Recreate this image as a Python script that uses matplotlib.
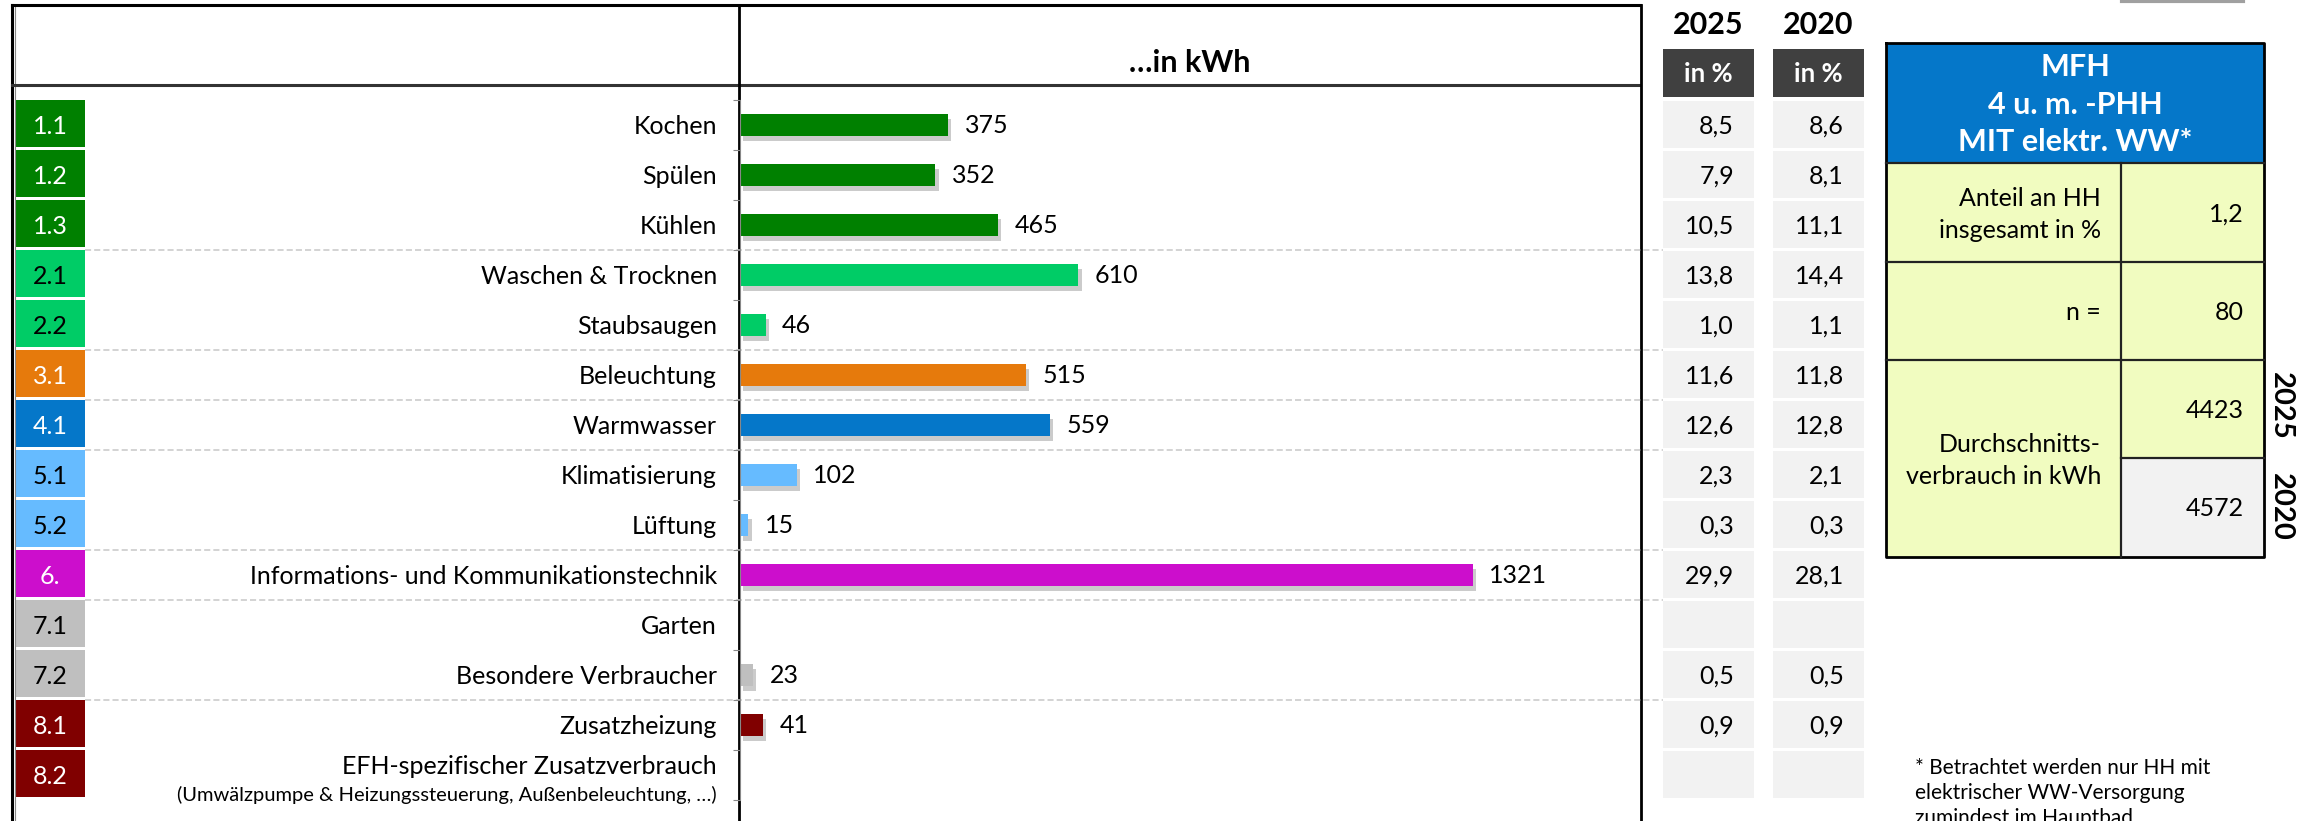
import numpy as np
import matplotlib.pyplot as plt
from matplotlib.patches import Rectangle
import matplotlib.patheffects as pe

W, H = 2311, 821

codes = ["1.1", "1.2", "1.3", "2.1", "2.2", "3.1", "4.1", "5.1", "5.2", "6.",
         "7.1", "7.2", "8.1", "8.2"]
labels = ["Kochen", "Spülen", "Kühlen", "Waschen & Trocknen", "Staubsaugen",
          "Beleuchtung", "Warmwasser", "Klimatisierung", "Lüftung",
          "Informations- und Kommunikationstechnik", "Garten",
          "Besondere Verbraucher", "Zusatzheizung",
          "EFH-spezifischer Zusatzverbrauch"]
sub_label = "(Umwälzpumpe & Heizungssteuerung, Außenbeleuchtung, …)"
kwh = [375, 352, 465, 610, 46, 515, 559, 102, 15, 1321, np.nan, 23, 41, np.nan]
pct_2025 = [8.5, 7.9, 10.5, 13.8, 1.0, 11.6, 12.6, 2.3, 0.3, 29.9, np.nan, 0.5, 0.9, np.nan]
pct_2020 = [8.6, 8.1, 11.1, 14.4, 1.1, 11.8, 12.8, 2.1, 0.3, 28.1, np.nan, 0.5, 0.9, np.nan]
colors = ["#008000", "#008000", "#008000", "#00CC66", "#00CC66", "#E67A0C",
          "#0577C9", "#66BBFF", "#66BBFF", "#CC0ECC", "#BFBFBF", "#BFBFBF",
          "#800000", "#800000"]
code_colors = ["white", "white", "white", "black", "black", "white", "white",
               "black", "black", "white", "black", "black", "white", "white"]
group_ends = [2, 4, 5, 6, 8, 9, 11]

share_hh = 1.2
n_hh = 80
avg_2025 = 4423
avg_2020 = 4572
years = ["2025", "2020"]

FS = 18


def fmt(v):
    return "" if np.isnan(v) else f"{v:.1f}".replace(".", ",")


plt.rcParams['font.family'] = ['Lato', 'DejaVu Sans']

fig = plt.figure(figsize=(W / 100, H / 100), dpi=100)
bg = fig.add_axes([0, 0, 1, 1])
bg.set_xlim(0, W)
bg.set_ylim(H, 0)
bg.axis('off')

ROW_TOP, ROW_H = 100, 50
n = len(codes)


def row_y(i):
    return ROW_TOP + ROW_H * i + ROW_H / 2


# frame of the left table
bg.plot([12, 12], [5, H + 5], color="black", lw=2.2)
bg.plot([15, 15], [5, H + 5], color="#888888", lw=0.8)
bg.plot([12, 1640], [5, 5], color="black", lw=2.2)
bg.plot([12, 1640], [85, 85], color="#333333", lw=2.2)
bg.plot([739, 739], [5, H + 5], color="black", lw=2)
bg.plot([1641, 1641], [5, H + 5], color="black", lw=2)
bg.text(1190, 63, "…in kWh", ha="center", va="center", fontsize=22, fontweight="bold")

# dashed group separators
for g in group_ends:
    yb = ROW_TOP + ROW_H * (g + 1)
    bg.plot([85, 1663], [yb, yb], color="#C8C8C8", lw=1.1, ls=(0, (4, 2)))

# code boxes and labels
for i in range(n):
    y0 = ROW_TOP + ROW_H * i
    bg.add_patch(Rectangle((16, y0), 69, ROW_H - 2.5, color=colors[i], lw=0))
    bg.text(50, row_y(i) + 1, codes[i], ha="center", va="center",
            fontsize=FS, color=code_colors[i])
    if i == n - 1:
        bg.text(717, row_y(i) - 8, labels[i], ha="right", va="center", fontsize=FS)
        bg.text(717, row_y(i) + 20, sub_label, ha="right", va="center", fontsize=14.5)
    else:
        bg.text(717, row_y(i) + 1, labels[i], ha="right", va="center", fontsize=FS)

# percentage columns
col_x = [1663, 1773]
col_w = 91
for c, (vals, yr) in enumerate(zip([pct_2025, pct_2020], years)):
    x0 = col_x[c]
    bg.text(x0 + col_w / 2, 25, yr, ha="center", va="center", fontsize=22, fontweight="bold")
    bg.add_patch(Rectangle((x0, 49), col_w, 48, color="#404040", lw=0))
    bg.text(x0 + col_w / 2, 74, "in %", ha="center", va="center", fontsize=18.5,
            fontweight="bold", color="white")
    for i in range(n):
        y0 = ROW_TOP + ROW_H * i + 1
        bg.add_patch(Rectangle((x0, y0), col_w, ROW_H - 3, color="#F2F2F2", lw=0))
        bg.text(x0 + col_w - 20, row_y(i) + 1, fmt(vals[i]), ha="right", va="center", fontsize=FS)

# MFH info box
bx0, bx1, bmid = 1886, 2264, 2121
yel = "#F1FCC0"
bg.add_patch(Rectangle((bx0, 43), bx1 - bx0, 120, color="#0577C9", lw=0))
for k, line in enumerate(["MFH", "4 u. m. -PHH", "MIT elektr. WW*"]):
    bg.text((bx0 + bx1) / 2, 67 + 37.5 * k, line, ha="center", va="center",
            fontsize=22, fontweight="bold", color="white")
bg.add_patch(Rectangle((bx0, 163), bx1 - bx0, 557 - 163, color=yel, lw=0))
bg.add_patch(Rectangle((bmid, 458), bx1 - bmid, 557 - 458, color="#F2F2F2", lw=0))
kw = dict(color="#222222", lw=1.6)
bg.plot([bx0, bx1, bx1, bx0, bx0], [43, 43, 557, 557, 43], color="black", lw=2)
bg.plot([bx0, bx1], [163, 163], **kw)
bg.plot([bx0, bx1], [262, 262], **kw)
bg.plot([bx0, bx1], [360, 360], **kw)
bg.plot([bmid, bx1], [458, 458], **kw)
bg.plot([bmid, bmid], [163, 557], **kw)

bg.text(2101, 198, "Anteil an HH", ha="right", va="center", fontsize=FS)
bg.text(2101, 230, "insgesamt in %", ha="right", va="center", fontsize=FS)
bg.text(2244, 214, fmt(share_hh), ha="right", va="center", fontsize=FS)
bg.text(2101, 313, "n =", ha="right", va="center", fontsize=FS)
bg.text(2244, 313, str(n_hh), ha="right", va="center", fontsize=FS)
bg.text(2101, 444, "Durchschnitts-", ha="right", va="center", fontsize=FS)
bg.text(2101, 476, "verbrauch in kWh", ha="right", va="center", fontsize=FS)
bg.text(2244, 410, str(avg_2025), ha="right", va="center", fontsize=FS)
bg.text(2244, 509, str(avg_2020), ha="right", va="center", fontsize=FS)
bg.text(2281, 406, years[0], ha="center", va="center", rotation=-90, fontsize=21, fontweight="bold")
bg.text(2281, 507, years[1], ha="center", va="center", rotation=-90, fontsize=21, fontweight="bold")

# footnote
for k, line in enumerate(["* Betrachtet werden nur HH mit",
                          "elektrischer WW-Versorgung",
                          "zumindest im Hauptbad"]):
    bg.text(1915, 768 + 25 * k, line, ha="left", va="center", fontsize=15)

bg.plot([2122, 2243], [1, 1], color="#A0A0A0", lw=3)

# bar chart
ax = fig.add_axes([740 / W, (H - 800) / H, 900 / W, 700 / H])
ax.patch.set_alpha(0)
ax.set_xlim(0, 1623)
ax.set_ylim(n - 0.5, -0.5)
for s in ["top", "right", "bottom"]:
    ax.spines[s].set_visible(False)
ax.spines["left"].set_color("#888888")
ax.set_xticks([])
ax.set_yticks(np.arange(-0.5, n, 1))
ax.set_yticklabels([])
ax.tick_params(axis="y", length=5, color="#888888", direction="out")

shadow = [pe.SimplePatchShadow(offset=(2.5, -3.5), shadow_rgbFace="#8C8C8C", alpha=0.45), pe.Normal()]
for i, v in enumerate(kwh):
    if np.isnan(v):
        continue
    b = ax.barh(i, v, height=0.45, color=colors[i], lw=0)
    for p in b:
        p.set_path_effects(shadow)
    ax.annotate(f"{v:.0f}", (v, i), xytext=(12, 0), textcoords="offset points",
                ha="left", va="center", fontsize=FS)

fig.savefig("out.png", dpi=100)
